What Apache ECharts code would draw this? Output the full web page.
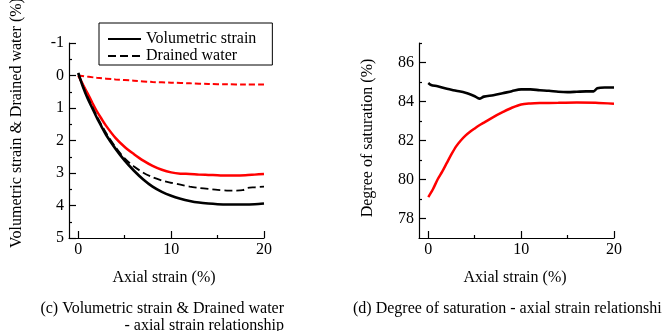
<!DOCTYPE html>
<html>
<head>
<meta charset="utf-8">
<script src="https://cdn.jsdelivr.net/npm/echarts@6/dist/echarts.min.js"></script>
<style>
  html, body { margin: 0; padding: 0; background: #fff; }
  #chart { width: 662px; height: 331px; }
</style>
</head>
<body>
<div id="chart"></div>
<script>
// (c) volumetric strain & drained water vs axial strain (%)
const axialA = [0, 0.5, 1, 1.5, 2, 2.5, 3, 4, 5, 6, 7, 8, 9, 10, 11, 12, 13, 14, 15, 16, 17, 18, 19, 20]
const volBlack = [-0.08, 0.35, 0.7, 1.0, 1.3, 1.57, 1.83, 2.25, 2.62, 2.93, 3.2, 3.42, 3.58, 3.7, 3.79, 3.86, 3.91, 3.94, 3.96, 3.97, 3.97, 3.97, 3.96, 3.94]
const volRed = [0, 0.28, 0.55, 0.83, 1.1, 1.33, 1.55, 1.92, 2.2, 2.42, 2.62, 2.78, 2.9, 2.98, 3.02, 3.03, 3.05, 3.06, 3.07, 3.08, 3.08, 3.07, 3.05, 3.03]

const axialDrain = [0, 0.5, 1, 1.5, 2, 2.5, 3, 4, 5, 6, 7, 8, 9, 10, 11, 12, 13, 14, 15, 16, 17, 17.7, 18.2, 19, 20]
const drainBlack = [-0.05, 0.33, 0.66, 0.96, 1.25, 1.52, 1.77, 2.2, 2.55, 2.8, 2.99, 3.13, 3.23, 3.3, 3.36, 3.42, 3.46, 3.49, 3.52, 3.54, 3.54, 3.53, 3.46, 3.44, 3.42]

const axialB = [0, 2, 4, 6, 8, 10, 12, 14, 16, 18, 20]
const drainRed = [0, 0.07, 0.12, 0.16, 0.2, 0.22, 0.24, 0.26, 0.27, 0.28, 0.28]

// (d) degree of saturation vs axial strain (%)
const satAxialBlack = [0, 0.3, 1, 2, 3, 4, 5, 5.5, 6, 7, 8, 9, 10, 11, 12, 13, 14, 15, 16, 17, 17.8, 18.2, 19, 20]
const satBlack = [84.95, 84.85, 84.78, 84.65, 84.55, 84.45, 84.27, 84.15, 84.25, 84.32, 84.42, 84.53, 84.62, 84.62, 84.58, 84.55, 84.5, 84.48, 84.5, 84.52, 84.52, 84.68, 84.72, 84.72]
const satAxialRed = [0, 0.5, 1, 1.5, 2, 2.5, 3, 3.5, 4, 4.5, 5, 5.5, 6, 7, 8, 9, 10, 11, 12, 14, 16, 18, 20]
const satRed = [79.1, 79.5, 80.0, 80.4, 80.85, 81.3, 81.7, 82.0, 82.25, 82.45, 82.62, 82.78, 82.92, 83.2, 83.45, 83.68, 83.85, 83.9, 83.92, 83.93, 83.95, 83.93, 83.88]

// tick labels
const xLabels = [0, 10, 20]
const xMinor = [5, 15]
const satLabels = [78, 80, 82, 84, 86]
const satMinor = [79, 81, 83, 85, 87]

const FONT = 'Liberation Serif'
const TEXT_FONT = '16px "Liberation Serif"'
const pairs = (xs, ys) => xs.map((x, i) => [x, ys[i]])

const chart = echarts.init(document.getElementById('chart'))

const tickLine = { color: '#000', width: 1.2 }
const axisBase = {
  axisLine: { onZero: false, lineStyle: { color: '#000', width: 1.2 } },
  splitLine: { show: false },
  axisLabel: { color: '#000', fontFamily: FONT, fontSize: 16 }
}
const hiddenAxis = {
  axisLine: { show: false, onZero: false }, splitLine: { show: false }, axisLabel: { show: false }
}

const xMain = (grid) => ({
  ...axisBase,
  gridIndex: grid, type: 'value', position: 'bottom', min: -1, max: 20,
  axisTick: { inside: true, length: 7, customValues: xLabels, lineStyle: tickLine },
  axisLabel: { ...axisBase.axisLabel, margin: 4, customValues: xLabels }
})
const xMinorAxis = (grid) => ({
  ...hiddenAxis,
  gridIndex: grid, type: 'value', position: 'bottom', min: -1, max: 20,
  axisTick: { inside: true, length: 3, customValues: xMinor, lineStyle: tickLine }
})

const option = {
  animation: false,
  backgroundColor: '#fff',
  textStyle: { fontFamily: FONT },
  grid: [
    { left: 69, top: 43, width: 195, height: 195 },
    { left: 419, top: 43, width: 195, height: 195 }
  ],
  legend: {
    data: ['Volumetric strain', 'Drained water'],
    orient: 'vertical',
    left: 99, top: 23,
    padding: [8, 16, 1, 8],
    itemGap: 1,
    itemWidth: 33, itemHeight: 14,
    itemStyle: { opacity: 0 },
    borderColor: '#000', borderWidth: 1,
    textStyle: { fontFamily: FONT, fontSize: 16, color: '#000' }
  },
  xAxis: [xMain(0), xMinorAxis(0), xMain(1), xMinorAxis(1)],
  yAxis: [
    {
      ...axisBase,
      gridIndex: 0, type: 'value', position: 'left', inverse: true, min: -1, max: 5, interval: 1,
      axisTick: { inside: true, length: 7, lineStyle: tickLine },
      minorTick: { show: true, splitNumber: 2, length: 3, lineStyle: tickLine },
      axisLabel: { ...axisBase.axisLabel, margin: 5 }
    },
    {
      ...axisBase,
      gridIndex: 1, type: 'value', position: 'left', min: 77, max: 87,
      axisTick: { inside: true, length: 7, customValues: satLabels, lineStyle: tickLine },
      axisLabel: { ...axisBase.axisLabel, margin: 5, customValues: satLabels }
    },
    {
      ...hiddenAxis,
      gridIndex: 1, type: 'value', position: 'left', min: 77, max: 87,
      axisTick: { inside: true, length: 3, customValues: satMinor, lineStyle: tickLine }
    }
  ],
  series: [
    { name: 'Drained water (red)', type: 'line', xAxisIndex: 0, yAxisIndex: 0, data: pairs(axialB, drainRed), symbol: 'none', smooth: 0.3,
      lineStyle: { color: '#ff0000', width: 2, type: [6, 3] } },
    { name: 'Volumetric strain (red)', type: 'line', xAxisIndex: 0, yAxisIndex: 0, data: pairs(axialA, volRed), symbol: 'none', smooth: 0.3,
      lineStyle: { color: '#ff0000', width: 2.5 } },
    { name: 'Drained water', type: 'line', xAxisIndex: 0, yAxisIndex: 0, data: pairs(axialDrain, drainBlack), symbol: 'none', smooth: 0.3,
      itemStyle: { color: '#000' }, lineStyle: { color: '#000', width: 1.8, type: [8, 4] } },
    { name: 'Volumetric strain', type: 'line', xAxisIndex: 0, yAxisIndex: 0, data: pairs(axialA, volBlack), symbol: 'none', smooth: 0.3,
      itemStyle: { color: '#000' }, lineStyle: { color: '#000', width: 2.6 } },
    { name: 'Saturation (red)', type: 'line', xAxisIndex: 2, yAxisIndex: 1, data: pairs(satAxialRed, satRed), symbol: 'none', smooth: 0.3,
      lineStyle: { color: '#ff0000', width: 2.5 } },
    { name: 'Saturation (black)', type: 'line', xAxisIndex: 2, yAxisIndex: 1, data: pairs(satAxialBlack, satBlack), symbol: 'none', smooth: 0.3,
      lineStyle: { color: '#000', width: 2.6 } }
  ],
  graphic: [
    { type: 'text', x: 164, y: 278, style: { text: 'Axial strain (%)', font: TEXT_FONT, fill: '#000', textAlign: 'center', textVerticalAlign: 'middle' } },
    { type: 'text', x: 515, y: 278, style: { text: 'Axial strain (%)', font: TEXT_FONT, fill: '#000', textAlign: 'center', textVerticalAlign: 'middle' } },
    { type: 'text', x: 17, y: 123, rotation: Math.PI / 2, style: { text: 'Volumetric strain & Drained water (%)', font: TEXT_FONT, fill: '#000', textAlign: 'center', textVerticalAlign: 'middle' } },
    { type: 'text', x: 368, y: 138, rotation: Math.PI / 2, style: { text: 'Degree of saturation (%)', font: TEXT_FONT, fill: '#000', textAlign: 'center', textVerticalAlign: 'middle' } },
    { type: 'text', x: 284, y: 309, style: { text: '(c) Volumetric strain & Drained water', font: TEXT_FONT, fill: '#000', textAlign: 'right', textVerticalAlign: 'middle' } },
    { type: 'text', x: 284, y: 326, style: { text: '- axial strain relationship', font: TEXT_FONT, fill: '#000', textAlign: 'right', textVerticalAlign: 'middle' } },
    { type: 'text', x: 353, y: 309, style: { text: '(d) Degree of saturation - axial strain relationship', font: TEXT_FONT, fill: '#000', textAlign: 'left', textVerticalAlign: 'middle' } }
  ]
}

chart.setOption(option)
</script>
</body>
</html>
